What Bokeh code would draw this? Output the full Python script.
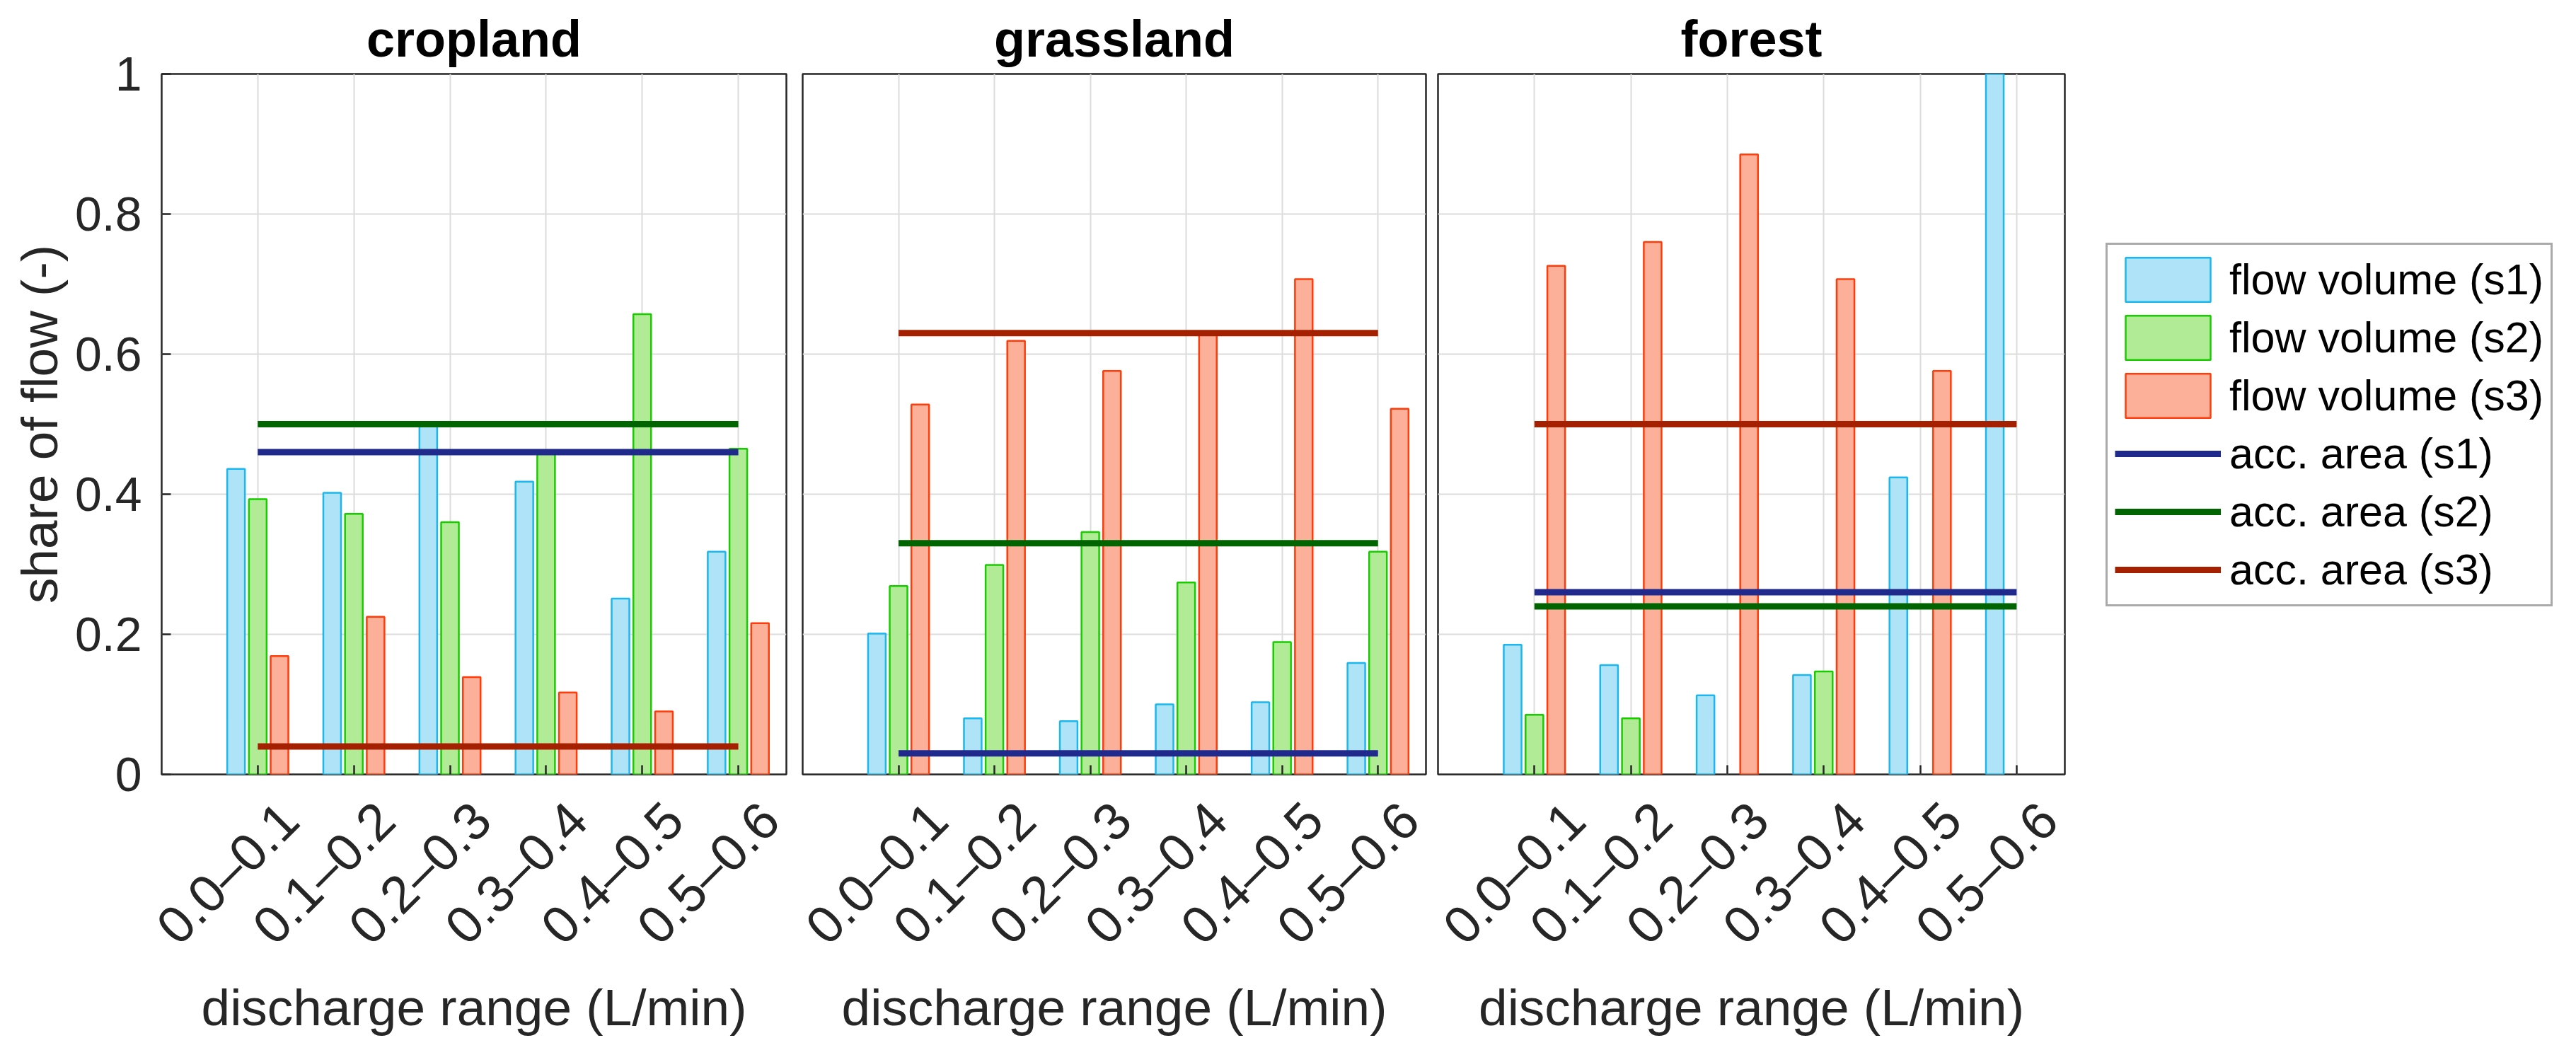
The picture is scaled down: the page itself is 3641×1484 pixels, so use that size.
import math
from bokeh.plotting import figure
from bokeh.models import (Range1d, FixedTicker, ColumnDataSource,
                          Legend, LegendItem, CustomJSTickFormatter)
from bokeh.layouts import row
from bokeh.transform import dodge
from bokeh.embed import file_html
from bokeh.resources import INLINE

# ---------------- data ----------------
categories = ["0.0–0.1", "0.1–0.2", "0.2–0.3", "0.3–0.4", "0.4–0.5", "0.5–0.6"]
panel_titles = ["cropland", "grassland", "forest"]
y_ticks = [0, 0.2, 0.4, 0.6, 0.8, 1]
series_labels = ["flow volume (s1)", "flow volume (s2)", "flow volume (s3)",
                 "acc. area (s1)", "acc. area (s2)", "acc. area (s3)"]

crop_s1 = [0.436, 0.402, 0.497, 0.418, 0.251, 0.318]
crop_s2 = [0.393, 0.372, 0.360, 0.459, 0.657, 0.465]
crop_s3 = [0.169, 0.225, 0.139, 0.117, 0.090, 0.216]
crop_area = [0.46, 0.50, 0.04]

grass_s1 = [0.201, 0.080, 0.076, 0.100, 0.103, 0.159]
grass_s2 = [0.269, 0.299, 0.346, 0.274, 0.189, 0.318]
grass_s3 = [0.528, 0.619, 0.576, 0.627, 0.707, 0.522]
grass_area = [0.03, 0.33, 0.63]

forest_s1 = [0.185, 0.156, 0.113, 0.142, 0.424, 1.0]
forest_s2 = [0.085, 0.080, 0.0, 0.147, 0.0, 0.0]
forest_s3 = [0.726, 0.760, 0.885, 0.707, 0.576, 0.0]
forest_area = [0.26, 0.24, 0.50]

# ---------------- style ----------------
FONT = "Liberation Sans"
TXT = "#262626"
BAR_FILL = ["#aee3f8", "#b1eb95", "#fcb09a"]
BAR_LINE = ["#1ab8ee", "#19cc00", "#ff3c0a"]
AREA_COL = ["#1f2a8c", "#006400", "#a52000"]
BAR_W = 0.184
OFFS = [-0.226, 0.0, 0.226]
FH = 990
MB_TOP = 104
MB_BOTTOM = 372
LABEL_SHIFT = 0.33   # rotated tick labels sit a little right of their tick

positions = list(range(1, len(categories) + 1))
label_pos = [p + LABEL_SHIFT for p in positions]


def nz(vals):
    # zero-height bars are not drawn (as in the original)
    return [v if v > 0 else float("nan") for v in vals]


def make_panel(title, s1, s2, s3, area, frame_w, mb_left, mb_right, first):
    p = figure(frame_width=frame_w, frame_height=FH,
               x_range=Range1d(0, len(categories) + 0.5), y_range=Range1d(0, 1),
               output_backend="svg", toolbar_location=None,
               min_border_left=mb_left, min_border_right=mb_right,
               min_border_top=MB_TOP, min_border_bottom=MB_BOTTOM, title=title)
    p.title.text_font = FONT
    p.title.text_font_size = "72px"
    p.title.text_font_style = "bold"
    p.title.text_color = "black"
    p.title.align = "center"
    p.title.standoff = 20
    p.outline_line_color = TXT
    p.outline_line_width = 2.5
    p.background_fill_color = "white"
    p.border_fill_color = "white"

    src = ColumnDataSource(dict(pos=positions, s1=nz(s1), s2=nz(s2), s3=nz(s3)))
    bars = []
    for i, key in enumerate(["s1", "s2", "s3"]):
        bars.append(p.vbar(x=dodge("pos", OFFS[i]), top=key, bottom=0, width=BAR_W,
                           source=src, fill_color=BAR_FILL[i], line_color=BAR_LINE[i],
                           line_width=2.5))
    lines = []
    for i, v in enumerate(area):
        lines.append(p.line(positions, [v] * len(positions), line_color=AREA_COL[i],
                            line_width=9, line_cap="butt"))

    # x axis: labels on shifted major ticks, tick marks as minor ticks at the groups
    xa = p.xaxis[0]
    xa.ticker = FixedTicker(ticks=label_pos, minor_ticks=positions)
    xa.major_label_overrides = {lp: cat for lp, cat in zip(label_pos, categories)}
    xa.major_label_orientation = math.pi / 4
    xa.major_label_text_font = FONT
    xa.major_label_text_font_size = "74px"
    xa.major_label_text_color = TXT
    xa.major_label_standoff = 52
    xa.major_tick_in = 0
    xa.major_tick_out = 0
    xa.minor_tick_in = 13
    xa.minor_tick_out = 0
    xa.minor_tick_line_color = TXT
    xa.minor_tick_line_width = 2.5
    xa.axis_line_color = None
    xa.axis_label = "discharge range (L/min)"
    xa.axis_label_text_font = FONT
    xa.axis_label_text_font_size = "73px"
    xa.axis_label_text_font_style = "normal"
    xa.axis_label_text_color = TXT
    xa.axis_label_standoff = 0

    # y axis
    ya = p.yaxis[0]
    if first:
        ya.ticker = FixedTicker(ticks=y_ticks)
        ya.major_tick_in = 13
        ya.major_tick_out = 0
        ya.major_tick_line_color = TXT
        ya.major_tick_line_width = 2.5
        ya.minor_tick_line_color = None
        ya.axis_line_color = None
        ya.formatter = CustomJSTickFormatter(code="return String(tick)")
        ya.major_label_text_font = FONT
        ya.major_label_text_font_size = "68px"
        ya.major_label_text_color = TXT
        ya.major_label_standoff = 28
        ya.axis_label = "share of flow (-)"
        ya.axis_label_text_font = FONT
        ya.axis_label_text_font_size = "73px"
        ya.axis_label_text_font_style = "normal"
        ya.axis_label_text_color = TXT
        ya.axis_label_standoff = 7
    else:
        ya.visible = False

    p.xgrid.ticker = FixedTicker(ticks=positions)
    p.ygrid.ticker = FixedTicker(ticks=y_ticks)
    for g in (p.xgrid[0], p.ygrid[0]):
        g.grid_line_color = "#dcdcdc"
        g.grid_line_width = 2
    return p, bars, lines


p1, _, _ = make_panel(panel_titles[0], crop_s1, crop_s2, crop_s3, crop_area, 883, 228, 11, True)
p2, _, _ = make_panel(panel_titles[1], grass_s1, grass_s2, grass_s3, grass_area, 881, 12, 8, False)
p3, bars3, lines3 = make_panel(panel_titles[2], forest_s1, forest_s2, forest_s3, forest_area,
                               886, 9, 0, False)

items = [LegendItem(label=series_labels[i], renderers=[bars3[i]]) for i in range(3)]
items += [LegendItem(label=series_labels[3 + i], renderers=[lines3[i]]) for i in range(3)]
leg = Legend(items=items, location=(58, 237), margin=34, padding=10, spacing=4,
             glyph_width=150, glyph_height=78, label_height=78, label_standoff=12,
             label_text_font=FONT, label_text_font_size="61px", label_text_color="black",
             border_line_color="#555555", border_line_width=3,
             background_fill_color="white", background_fill_alpha=1)
p3.add_layout(leg, "right")

layout = row(p1, p2, p3)
open("out.html", "w").write(file_html(layout, INLINE))
